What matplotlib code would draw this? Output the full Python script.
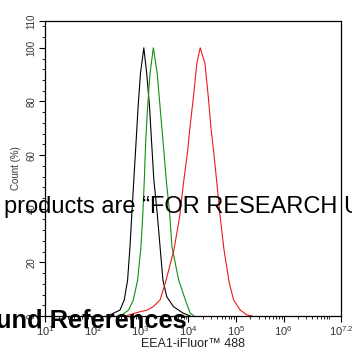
import numpy as np
import matplotlib
matplotlib.use("Agg")
import matplotlib.pyplot as plt
from matplotlib.ticker import MultipleLocator, LogLocator, NullFormatter

plt.rcParams['font.family'] = ['Liberation Sans', 'DejaVu Sans']
plt.rcParams['mathtext.default'] = 'regular'

# histogram traces (log10 of intensity, % of max count)
black_log = [2.30, 2.36, 2.57, 2.66, 2.73, 2.78, 2.82, 2.86, 2.91, 2.95, 3.00, 3.07,
             3.13, 3.19, 3.23, 3.28, 3.35, 3.41, 3.47, 3.55, 3.69, 3.89, 4.04]
black_cnt = [0.0, 0.4, 2.2, 6.0, 13.4, 25.8, 38.4, 50.7, 65.6, 78.0, 90.5, 100.0,
             90.5, 78.0, 65.6, 50.7, 38.4, 25.8, 13.4, 7.2, 3.5, 1.1, 0.0]

green_log = [2.55, 2.61, 2.75, 2.85, 2.94, 3.01, 3.05, 3.08, 3.11, 3.15, 3.20, 3.27,
             3.35, 3.41, 3.47, 3.54, 3.61, 3.66, 3.80, 3.94, 4.04, 4.12]
green_cnt = [0.0, 0.4, 2.2, 6.0, 13.4, 25.8, 38.4, 50.7, 65.6, 78.0, 90.5, 100.0,
             90.5, 78.0, 65.6, 50.7, 38.4, 25.8, 13.4, 6.0, 1.1, 0.0]

red_log = [2.68, 2.99, 3.14, 3.27, 3.41, 3.52, 3.70, 3.82, 3.90, 3.99, 4.03, 4.11, 4.18,
           4.25, 4.35, 4.42, 4.48, 4.53, 4.60, 4.67, 4.75, 4.86, 4.95, 5.09, 5.23, 5.34]
red_cnt = [0.0, 1.6, 2.2, 3.5, 6.0, 12.3, 24.6, 37.0, 49.5, 61.9, 69.4, 81.8, 94.2,
           100.0, 94.2, 81.8, 69.4, 61.9, 49.5, 37.0, 24.6, 12.3, 6.0, 2.2, 0.4, 0.0]

x_tick_exp = [1, 2, 3, 4, 5, 6, 7.2]
x_tick_labels = [r'$10^{1}$', r'$10^{2}$', r'$10^{3}$', r'$10^{4}$', r'$10^{5}$', r'$10^{6}$', r'$10^{7.2}$']
y_ticks = [0, 20, 40, 60, 80, 100, 110]

W, H = 352, 350
fig = plt.figure(figsize=(W / 100, H / 100), dpi=100)
ax = fig.add_axes([45 / W, 34 / H, 296 / W, 295 / H])

ax.plot(10 ** np.array(black_log), black_cnt, color='black', lw=0.8)
ax.plot(10 ** np.array(green_log), green_cnt, color='#109010', lw=0.8)
ax.plot(10 ** np.array(red_log), red_cnt, color='#f01818', lw=0.8)

ax.set_xscale('log')
ax.set_xlim(10, 10 ** 7.2)
ax.set_ylim(0, 110)

ax.set_xticks([10 ** e for e in x_tick_exp])
ax.set_xticklabels(x_tick_labels, fontsize=8)
ax.xaxis.set_minor_locator(LogLocator(base=10, subs=np.arange(2, 10)))
ax.xaxis.set_minor_formatter(NullFormatter())

ax.set_yticks(y_ticks)
ax.set_yticklabels([str(v) for v in y_ticks], rotation=90, va='center', fontsize=7)
ax.yaxis.set_minor_locator(MultipleLocator(4))

ax.tick_params(which='major', length=4, width=0.8, labelcolor='#333333', pad=2)
ax.tick_params(which='minor', length=2, width=0.6)
for s in ax.spines.values():
    s.set_linewidth(0.9)

ax.set_xlabel('EEA1-iFluor\u2122 488', fontsize=9, color='#222222', labelpad=0)
ax.set_ylabel('Count (%)', fontsize=7, color='#333333', labelpad=4)

# overlay texts that sit on top of the chart
fig.text(4 / W, 1 - 213 / H, 'products are \u201cFOR RESEARCH USE ONLY\u201d',
         fontsize=17, ha='left', va='baseline', color='black')
fig.text(187 / W, 1 - 328 / H, 'und References', fontsize=18.3, fontweight='bold',
         ha='right', va='baseline', color='black')

fig.savefig('out.png', dpi=100)
